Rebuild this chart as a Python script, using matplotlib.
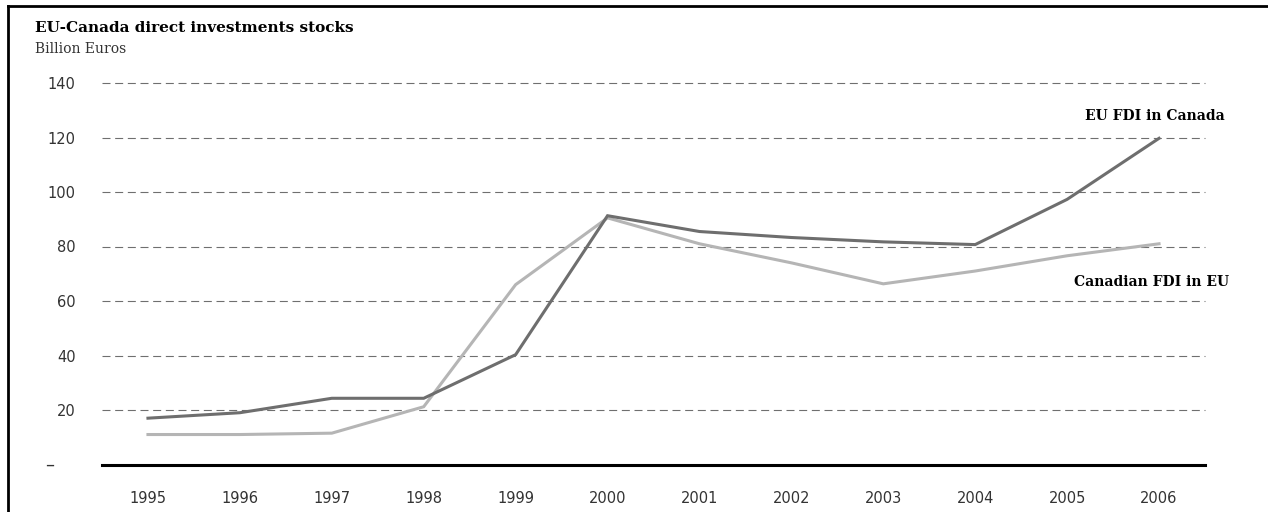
import matplotlib
matplotlib.use("Agg")
import matplotlib.pyplot as plt
from matplotlib.lines import Line2D
from matplotlib.transforms import blended_transform_factory

years = [1995, 1996, 1997, 1998, 1999, 2000, 2001, 2002, 2003, 2004, 2005, 2006]
eu_in_canada = [17, 19, 24.3, 24.3, 40.3, 91.3, 85.5, 83.3, 81.7, 80.7, 97.3, 119.7]
canada_in_eu = [11, 11, 11.5, 21.2, 66, 90.5, 81, 74, 66.3, 71, 76.6, 81]
yticks = [0, 20, 40, 60, 80, 100, 120, 140]

W, H = 1268, 512
fig = plt.figure(figsize=(W / 100, H / 100), dpi=100)
ax = fig.add_axes([102 / W, 47.5 / H, (1205 - 102) / W, (464.5 - 83) / H])

ax.plot(years, eu_in_canada, color="#6e6e6e", lw=2.2, solid_joinstyle="miter", zorder=3)
ax.plot(years, canada_in_eu, color="#b5b5b5", lw=2.2, solid_joinstyle="miter", zorder=2)

ax.set_xlim(1994.5, 2006.5)
ax.set_ylim(0, 140)
ax.set_xticks(years)
ax.set_xticklabels([str(y) for y in years])
ax.set_yticks(yticks)
ax.set_yticklabels(["" if v == 0 else str(v) for v in yticks])
ax.tick_params(length=0, labelsize=10.5, labelcolor="#333333", labelfontfamily="DejaVu Sans")
ax.tick_params(axis="x", pad=19)
ax.tick_params(axis="y", pad=19)

# dashed gridlines
for v in yticks[1:]:
    ax.axhline(v, color="#6f6f6f", lw=0.8, linestyle=(0, (7.2, 4.2)), zorder=1, clip_on=False)

for s in ["top", "right", "left"]:
    ax.spines[s].set_visible(False)
ax.spines["bottom"].set_linewidth(2.2)
ax.spines["bottom"].set_color("black")
ax.spines["bottom"].set_zorder(4)

# zero shown as a dash
ax.text(54 / W, 0, "\u2013", transform=blended_transform_factory(fig.transFigure, ax.transData),
        ha="right", va="center", fontsize=13, color="#333333", family="DejaVu Sans")

# series labels
ax.text(2006.71, 127.9, "EU FDI in Canada", ha="right", va="center", fontsize=10,
        fontweight="bold", family="DejaVu Serif", clip_on=False)
ax.text(2006.76, 67, "Canadian FDI in EU", ha="right", va="center", fontsize=10,
        fontweight="bold", family="DejaVu Serif", clip_on=False)

# titles
fig.text(35 / W, 1 - 28 / H, "EU-Canada direct investments stocks", ha="left", va="center",
         fontsize=11, fontweight="bold", family="DejaVu Serif")
fig.text(35 / W, 1 - 49 / H, "Billion Euros", ha="left", va="center",
         fontsize=10, family="DejaVu Serif", color="#333333")

# frame (left and top edges)
fig.add_artist(Line2D([8 / W, 8 / W], [0, 1 - 6 / H], transform=fig.transFigure, color="black", lw=2))
fig.add_artist(Line2D([8 / W, 1], [1 - 6 / H, 1 - 6 / H], transform=fig.transFigure, color="black", lw=2))

fig.savefig("out.png", dpi=100)
